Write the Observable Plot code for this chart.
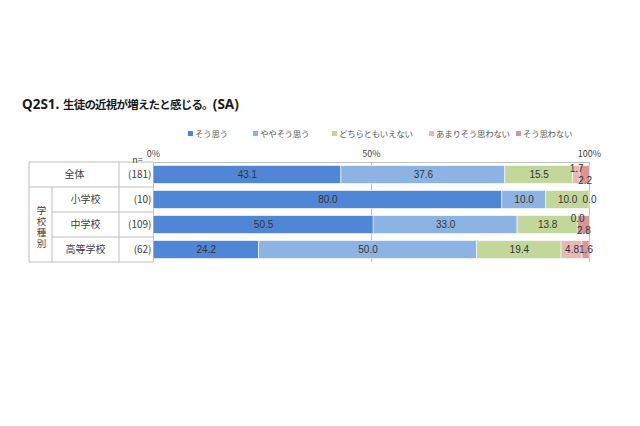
<!DOCTYPE html>
<html>
<head>
<meta charset="utf-8">
<script src="https://cdn.jsdelivr.net/npm/d3@7"></script>
<script src="https://cdn.jsdelivr.net/npm/@observablehq/plot@0.6"></script>
<style>
  body { margin: 0; background: #fff; font-family: "Noto Sans CJK JP", "Noto Sans", sans-serif; }
  #header { position: relative; width: 640px; height: 140px; }
  #title { position: absolute; left: 22px; top: 92px; font-weight: bold; color: #1a1a1a; white-space: nowrap; line-height: 20px; }
  #title .lat { font-family: "Noto Sans", sans-serif; font-size: 13.5px; }
  #title .cjk { font-size: 11.5px; letter-spacing: -0.8px; }
  .leg { position: absolute; top: 127px; font-size: 8.5px; color: #595959; white-space: nowrap; line-height: 12px; letter-spacing: -0.3px; }
  .leg i { display: inline-block; width: 5px; height: 5px; margin-right: 2px; vertical-align: 1px; }
</style>
</head>
<body>
<div id="header">
  <div id="title"><span class="lat">Q2S1.</span>&nbsp;<span class="cjk">生徒の近視が増えたと感じる。</span><span class="lat">(SA)</span></div>
  <div id="legend"></div>
</div>
<div id="chart"></div>
<script>
// ---- data ----
const rows = ["全体", "小学校", "中学校", "高等学校"];
const nLabels = ["(181)", "(10)", "(109)", "(62)"];
const groupLabel = "学校種別";
const responses = ["そう思う", "ややそう思う", "どちらともいえない", "あまりそう思わない", "そう思わない"];
const colors = ["#4f87d6", "#8db3e2", "#c4d79b", "#e6b8b7", "#d99694"];
const agree = [43.1, 80.0, 50.5, 24.2];
const somewhatAgree = [37.6, 10.0, 33.0, 50.0];
const neutral = [15.5, 10.0, 13.8, 19.4];
const somewhatDisagree = [1.7, 0.0, 0.0, 4.8];
const disagree = [2.2, 0.0, 2.8, 1.6];
const xTicks = [0, 50, 100];

const series = [agree, somewhatAgree, neutral, somewhatDisagree, disagree];
const data = [];
rows.forEach((row, i) => {
  responses.forEach((resp, j) => {
    data.push({row, resp, value: series[j][i], ri: i, rj: j});
  });
});

// label placement class: small trailing pair -> staggered; coincident zeros -> one label
function labelClass(d) {
  const a4 = somewhatDisagree[d.ri], a5 = disagree[d.ri];
  const bothZero = a4 === 0 && a5 === 0;
  const staggered = a4 < 3 && a5 < 3 && !bothZero;
  if (bothZero && d.rj === 3) return "none";
  if (staggered && d.rj === 3) return "up";
  if (staggered && d.rj === 4) return "down";
  return "mid";
}
const fmt = v => v.toFixed(1);

// ---- legend ----
const legendX = [188, 253, 332, 429, 516];
const legend = document.getElementById("legend");
responses.forEach((r, j) => {
  const s = document.createElement("span");
  s.className = "leg";
  s.style.left = legendX[j] + "px";
  s.innerHTML = `<i style="background:${colors[j]}"></i>${r}`;
  legend.appendChild(s);
});

// ---- table grid (uses the y scale for row positions) ----
function tableGrid(index, scales, values, dims) {
  const y = scales.y;
  const n = rows.length;
  const step = (typeof y.bandwidth === "function") ? y.bandwidth()
    : (dims.height - dims.marginTop - dims.marginBottom) / n;
  const top = y(rows[0]);
  const bottom = y(rows[n - 1]) + step;
  const L = 29, G = 52, N = 119, A = dims.marginLeft;
  const g = d3.create("svg:g").attr("stroke", "#bfbfbf").attr("stroke-width", 1).attr("fill", "none");
  const line = (x1, y1, x2, y2) => g.append("line").attr("x1", x1).attr("y1", y1).attr("x2", x2).attr("y2", y2);
  line(L, top, A, top);
  rows.forEach((r, i) => {
    const yb = y(r) + step;
    line((i === 0 || i === n - 1) ? L : G, yb, A, yb);
  });
  line(L, top, L, bottom);
  line(G, y(rows[1]), G, bottom);
  line(N, top, N, bottom);
  return g.node();
}

const textColor = "#404040";
const stackOpts = {x: "value", y: "row", z: "resp", order: responses};
const valOpts = {fill: "#333", fontSize: 10, fontFamily: "'Liberation Sans', 'DejaVu Sans', sans-serif"};

const chart = Plot.plot({
  width: 640,
  height: 140,
  marginTop: 22,
  marginBottom: 18,
  marginLeft: 153,
  marginRight: 51,
  x: {domain: [0, 100], axis: null},
  y: {domain: rows, axis: null, padding: 0},
  color: {domain: responses, range: colors},
  style: {fontFamily: "'Noto Sans CJK JP', 'Noto Sans', sans-serif", fontSize: "10px", color: textColor, background: "white"},
  marks: [
    Plot.ruleX(xTicks, {x: d => d, stroke: "#bfbfbf", strokeOpacity: 1}),
    Plot.frame({anchor: "top", stroke: "#bfbfbf"}),
    tableGrid,
    Plot.barX(data, Plot.stackX({...stackOpts, fill: "resp", stroke: "white", strokeWidth: 0.6, insetTop: 3.5, insetBottom: 3.5})),
    // value labels
    Plot.text(data, Plot.stackX({...stackOpts, ...valOpts, text: d => labelClass(d) === "mid" ? fmt(d.value) : null})),
    Plot.text(data, Plot.stackX({...stackOpts, ...valOpts, text: d => labelClass(d) === "up" ? fmt(d.value) : null, dy: -5.8})),
    Plot.text(data, Plot.stackX({...stackOpts, ...valOpts, text: d => labelClass(d) === "down" ? fmt(d.value) : null, dy: 5.8})),
    // axis tick labels
    Plot.text(xTicks, {x: d => d, text: d => d + "%", frameAnchor: "top", dy: -12, fill: textColor, fontSize: 9}),
    Plot.text(["n="], {frameAnchor: "top-left", dx: -16, dy: -6, textAnchor: "middle", fill: textColor, fontSize: 9}),
    // table text
    Plot.text(rows.slice(0, 1), {y: d => d, text: d => d, frameAnchor: "left", textAnchor: "middle", dx: -79, fill: textColor}),
    Plot.text(rows.slice(1), {y: d => d, text: d => d, frameAnchor: "left", textAnchor: "middle", dx: -68, fill: textColor}),
    Plot.text(rows, {y: d => d, text: (d, i) => nLabels[i], frameAnchor: "left", dx: -2, textAnchor: "end", fill: textColor}),
    Plot.text([groupLabel], {y: () => rows[2], text: d => d, frameAnchor: "left", textAnchor: "middle", dx: -112, fontSize: 9.5, fill: textColor, className: "vgroup"})
  ]
});
// set the group label in vertical writing mode
d3.select(chart).selectAll(".vgroup text")
  .attr("dy", null)
  .attr("writing-mode", "vertical-rl")
  .style("text-orientation", "upright")
  .style("letter-spacing", "1.5px");
document.getElementById("chart").appendChild(chart);
</script>
</body>
</html>
